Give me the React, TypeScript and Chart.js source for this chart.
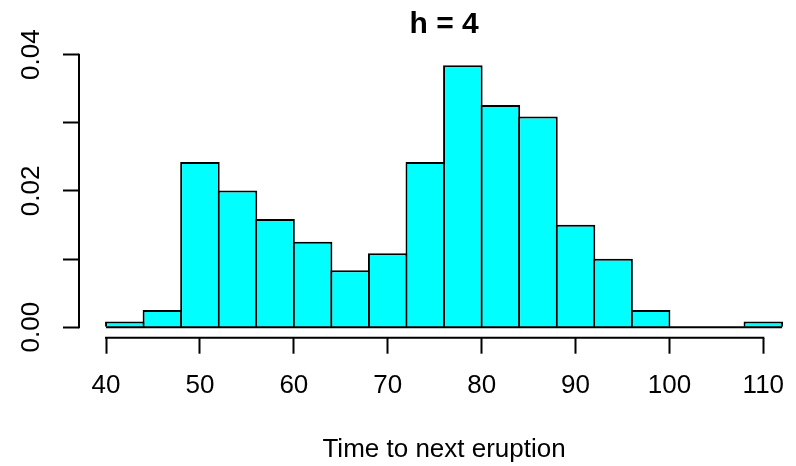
import { useEffect, useRef } from "react";
import { Chart, registerables } from "chart.js";

Chart.register(...registerables);

// Histogram of waiting time to next eruption, bin width h = 4 (density scale)
const BIN_LEFT = [40, 44, 48, 52, 56, 60, 64, 68, 72, 76, 80, 84, 88, 92, 96, 100, 104, 108];
const BIN_WIDTH = 4;
const DENSITY = [
  0.000836, 0.002508, 0.024247, 0.020067, 0.015886, 0.012542, 0.008361, 0.01087, 0.024247,
  0.038462, 0.032609, 0.030936, 0.01505, 0.010033, 0.002508, 0, 0, 0.000836,
];
const X_TICKS = [40, 50, 60, 70, 80, 90, 100, 110];
const Y_TICKS = [0, 0.01, 0.02, 0.03, 0.04];
const Y_TICK_LABELS = ["0.00", "", "0.02", "", "0.04"];
const TITLE = "h = 4";
const X_TITLE = "Time to next eruption";

const X_MIN = 37.12;
const X_MAX = 113.48;
const Y_MIN = -0.00154;
const Y_MAX = 0.04;

const FONT = "'Liberation Sans', Arial, Helvetica, sans-serif";

export default function App() {
  const ref = useRef<HTMLCanvasElement>(null);

  useEffect(() => {
    const canvas = ref.current;
    if (!canvas) return;

    const rPlot = {
      id: "rPlot",
      afterDraw(chart: any) {
        const { ctx, chartArea, scales } = chart;
        const x = scales.x;
        const y = scales.y;
        ctx.save();
        ctx.strokeStyle = "#000";
        ctx.lineWidth = 2;
        ctx.beginPath();
        ctx.moveTo(x.getPixelForValue(X_TICKS[0]) - 1, chartArea.bottom);
        ctx.lineTo(x.getPixelForValue(X_TICKS[X_TICKS.length - 1]) + 1, chartArea.bottom);
        ctx.moveTo(chartArea.left, y.getPixelForValue(Y_TICKS[0]) + 1);
        ctx.lineTo(chartArea.left, y.getPixelForValue(Y_TICKS[Y_TICKS.length - 1]) - 1);
        ctx.stroke();

        const centerVal = (BIN_LEFT[0] + BIN_LEFT[BIN_LEFT.length - 1] + BIN_WIDTH) / 2;
        const cx = x.getPixelForValue(centerVal);
        ctx.fillStyle = "#000";
        ctx.textAlign = "center";
        ctx.textBaseline = "alphabetic";
        ctx.font = `bold 30px ${FONT}`;
        ctx.fillText(TITLE, cx, 33);
        ctx.font = `26px ${FONT}`;
        ctx.fillText(X_TITLE, cx, 457);
        ctx.restore();
      },
    };

    const chart = new Chart(canvas, {
      type: "bar",
      data: {
        datasets: [
          {
            type: "line",
            data: [
              { x: BIN_LEFT[0], y: 0 },
              { x: BIN_LEFT[BIN_LEFT.length - 1] + BIN_WIDTH, y: 0 },
            ],
            borderColor: "#000",
            borderWidth: 2,
            pointRadius: 0,
            order: 0,
          } as any,
          {
            type: "bar",
            data: BIN_LEFT.map((l, i) => ({ x: l + BIN_WIDTH / 2, y: DENSITY[i] })),
            backgroundColor: "#00FFFF",
            borderColor: "#000",
            borderWidth: { top: 2, left: 2, right: 2, bottom: 0 },
            borderSkipped: "start",
            barPercentage: 1.053,
            categoryPercentage: 1,
            grouped: false,
            order: 1,
          } as any,
        ],
      },
      options: {
        responsive: false,
        animation: false,
        events: [],
        layout: { padding: { top: 54.7, left: 0, right: 0, bottom: 0 } },
        plugins: {
          legend: { display: false },
          tooltip: { enabled: false },
          title: { display: false },
        },
        scales: {
          x: {
            type: "linear",
            min: X_MIN,
            max: X_MAX,
            offset: false,
            afterBuildTicks: (s: any) => {
              s.ticks = X_TICKS.map((v) => ({ value: v }));
            },
            afterFit: (s: any) => {
              s.height = 128.3;
              s.paddingLeft = 0;
              s.paddingRight = 0;
            },
            grid: {
              display: true,
              offset: false,
              drawOnChartArea: false,
              drawTicks: true,
              tickLength: 16,
              tickColor: "#000",
              tickWidth: 2,
            },
            border: { display: false },
            ticks: {
              autoSkip: false,
              maxRotation: 0,
              minRotation: 0,
              padding: 17,
              color: "#000",
              font: { family: FONT, size: 26 },
              callback: (v: any) => String(v),
            },
          },
          y: {
            type: "linear",
            min: Y_MIN,
            max: Y_MAX,
            afterBuildTicks: (s: any) => {
              s.ticks = Y_TICKS.map((v) => ({ value: v }));
            },
            afterFit: (s: any) => {
              s.width = 79;
              s.paddingTop = 0;
              s.paddingBottom = 0;
            },
            grid: {
              display: true,
              drawOnChartArea: false,
              drawTicks: true,
              tickLength: 16,
              tickColor: "#000",
              tickWidth: 2,
            },
            border: { display: false },
            ticks: {
              autoSkip: false,
              minRotation: 90,
              maxRotation: 90,
              crossAlign: "center",
              padding: 6,
              color: "#000",
              font: { family: FONT, size: 26 },
              callback: (_v: any, i: number) => Y_TICK_LABELS[i],
            },
          },
        },
      },
      plugins: [rPlot],
    });

    return () => chart.destroy();
  }, []);

  return (
    <div style={{ position: "fixed", left: 0, top: 0, width: 796, height: 466, background: "#fff" }}>
      <canvas ref={ref} width={796} height={466} style={{ display: "block" }} />
    </div>
  );
}
